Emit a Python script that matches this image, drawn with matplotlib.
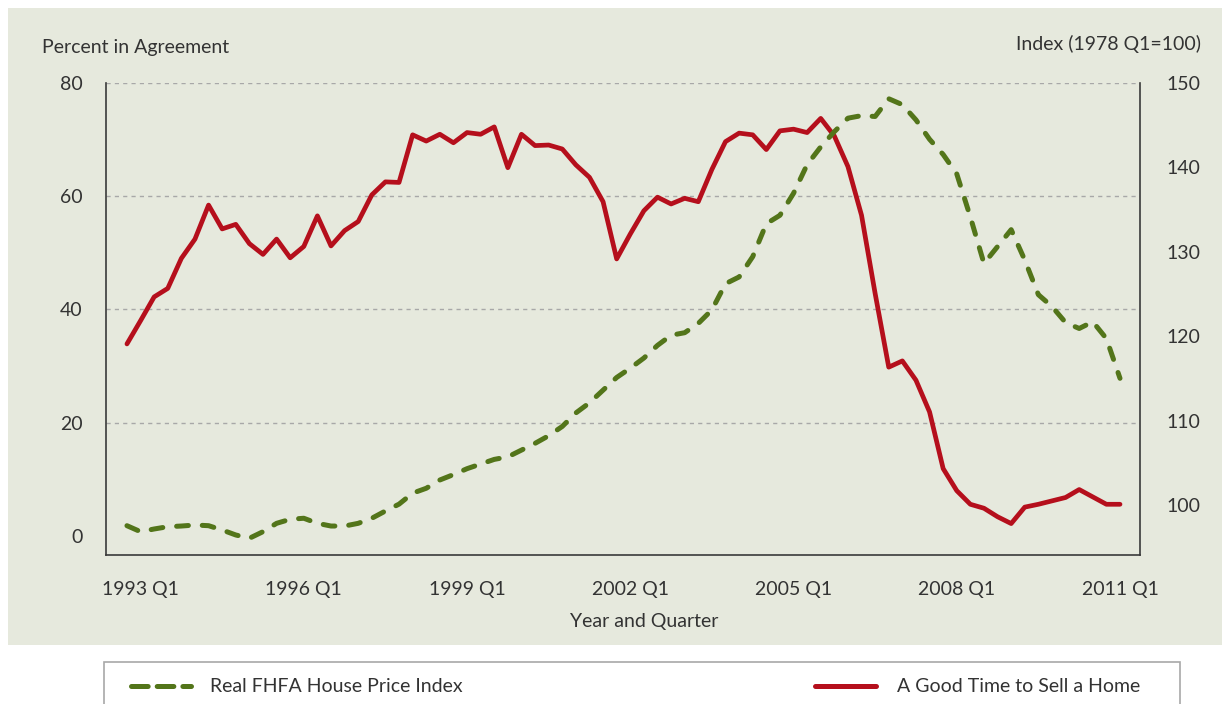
"""Good time to sell a home vs. real FHFA house price index, 1992 Q4 - 2011 Q1."""

import matplotlib
matplotlib.use("Agg")
import matplotlib.pyplot as plt
from matplotlib.patches import Rectangle
from matplotlib.lines import Line2D

plt.rcParams["font.family"] = ["Lato", "DejaVu Sans"]
plt.rcParams["lines.scale_dashes"] = False

PANEL = "#e6e9dd"
RED = "#b50f1c"
GREEN = "#53751a"
TEXT = "#333333"
FONT_SIZE = 14

# quarters from 1992 Q4 to 2011 Q1, labelled every three years
quarters = [f"{1992 + (i + 3) // 4} Q{(i + 3) % 4 + 1}" for i in range(74)]
tick_labels = ["1993 Q1", "1996 Q1", "1999 Q1", "2002 Q1", "2005 Q1", "2008 Q1", "2011 Q1"]

good_time_to_sell = [
    33.9, 38.0, 42.2, 43.7, 49.0, 52.4, 58.4, 54.2, 55.0, 51.6,
    49.7, 52.4, 49.1, 51.1, 56.5, 51.2, 53.9, 55.5, 60.2, 62.5,
    62.4, 70.8, 69.7, 70.9, 69.4, 71.2, 70.9, 72.2, 65.0, 70.9,
    68.9, 69.0, 68.3, 65.5, 63.3, 59.0, 48.9, 53.3, 57.4, 59.8,
    58.6, 59.6, 59.0, 64.7, 69.6, 71.1, 70.8, 68.2, 71.5, 71.8,
    71.2, 73.7, 70.6, 65.2, 56.6, 42.8, 29.8, 30.9, 27.5, 21.9,
    11.9, 8.0, 5.6, 4.9, 3.4, 2.2, 5.1, 5.6, 6.2, 6.8,
    8.2, 6.9, 5.6, 5.6,
]

house_price_index = [
    97.55, 96.84, 97.16, 97.43, 97.51, 97.63, 97.55, 97.04, 96.45, 96.06,
    96.84, 97.83, 98.31, 98.43, 97.83, 97.51, 97.51, 97.83, 98.43, 99.29,
    100.1, 101.4, 101.98, 102.96, 103.6, 104.3, 104.85, 105.4, 105.7, 106.5,
    107.3, 108.2, 109.3, 110.9, 112.1, 113.6, 115.1, 116.2, 117.4, 118.9,
    120.1, 120.4, 121.5, 123.1, 126.2, 127.0, 129.4, 133.3, 134.3, 136.9,
    140.3, 142.4, 144.2, 145.8, 146.1, 146.0, 148.1, 147.4, 145.6, 143.3,
    141.5, 139.2, 134.1, 128.6, 130.6, 132.6, 129.0, 124.9, 123.5, 121.6,
    120.9, 121.7, 119.7, 115.0,
]

x = list(range(len(quarters)))
tick_pos = [quarters.index(t) for t in tick_labels]

fig = plt.figure(figsize=(12.25, 7.04), dpi=100)
fig.patch.set_facecolor("white")

# shaded panel behind the chart
fig.patches.append(Rectangle((8 / 1225, 59 / 704), 1214 / 1225, 637 / 704,
                             transform=fig.transFigure, facecolor=PANEL,
                             edgecolor="none", zorder=-5))

ax = fig.add_axes([106 / 1225, 149 / 704, 1034 / 1225, 472.3 / 704])
ax.set_facecolor("none")
ax2 = ax.twinx()
ax2.set_facecolor("none")

ax.plot(x, good_time_to_sell, color=RED, linewidth=3.4, solid_joinstyle="round",
        solid_capstyle="round", zorder=3)
ax2.plot(x, house_price_index, color=GREEN, linewidth=3.6, dash_capstyle="round",
         dash_joinstyle="round", linestyle=(0, (8.5, 10.0)), zorder=3)

ax.set_xlim(-1.54, 74.47)
ax.set_ylim(-3.35, 80)
ax2.set_ylim(94.08, 150)

ax.set_yticks([0, 20, 40, 60, 80])
ax2.set_yticks([100, 110, 120, 130, 140, 150])
ax.set_xticks(tick_pos)
ax.set_xticklabels(tick_labels)

ax.grid(axis="y", color="#a8a8a8", linestyle=(0, (3, 3)), linewidth=1.0)
ax.set_axisbelow(True)
ax.yaxis.get_gridlines()[0].set_visible(False)

for a in (ax, ax2):
    a.spines["top"].set_visible(False)
    for s in ("left", "right", "bottom"):
        a.spines[s].set_color("#3a3a3a")
        a.spines[s].set_linewidth(1.2)
    a.tick_params(length=0, labelsize=FONT_SIZE, labelcolor=TEXT)
ax.spines["right"].set_visible(False)
ax2.spines["left"].set_visible(False)
ax2.spines["bottom"].set_visible(False)
ax.tick_params(axis="y", pad=17)
ax.tick_params(axis="x", pad=19)
ax2.tick_params(axis="y", pad=19)

fig.text(42 / 1225, 1 - 48 / 704, "Percent in Agreement", fontsize=FONT_SIZE,
         color=TEXT, ha="left", va="center")
fig.text(1201 / 1225, 1 - 44 / 704, "Index (1978 Q1=100)", fontsize=FONT_SIZE,
         color=TEXT, ha="right", va="center")
fig.text(644 / 1225, 1 - 622 / 704, "Year and Quarter", fontsize=FONT_SIZE,
         color=TEXT, ha="center", va="center")

# legend box under the panel
fig.patches.append(Rectangle((104 / 1225, -0.02), 1076 / 1225, 0.02 + 42 / 704,
                             transform=fig.transFigure, facecolor="white",
                             edgecolor="#a8a8a8", linewidth=1.2, zorder=-5))
ly = 1 - 686 / 704
fig.lines.append(Line2D([131 / 1225, 191 / 1225], [ly, ly], transform=fig.transFigure,
                        color=GREEN, linewidth=3.6, dash_capstyle="round",
                        linestyle=(0, (12.0, 6.5))))
fig.lines.append(Line2D([815 / 1225, 876 / 1225], [ly, ly], transform=fig.transFigure,
                        color=RED, linewidth=3.6, solid_capstyle="round"))
fig.text(210 / 1225, ly, "Real FHFA House Price Index", fontsize=FONT_SIZE,
         color=TEXT, ha="left", va="center")
fig.text(897 / 1225, ly, "A Good Time to Sell a Home", fontsize=FONT_SIZE,
         color=TEXT, ha="left", va="center")

fig.savefig("out.png", dpi=100)
